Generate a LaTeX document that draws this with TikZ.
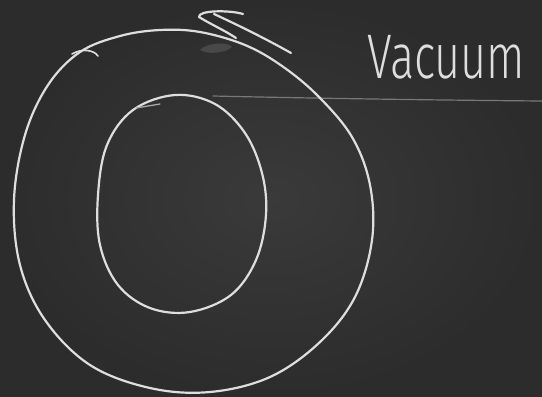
\documentclass[tikz,border=0pt]{standalone}
\usepackage{fontspec}
\newfontfamily\chalkfont{Fira Sans Light}
\definecolor{board}{RGB}{44,44,44}
\definecolor{boardlight}{RGB}{58,58,58}
\definecolor{chalk}{RGB}{222,222,222}
\definecolor{chalkfaint}{RGB}{120,120,120}
\tikzset{
  chalkline/.style={draw=chalk, line width=2.2pt, line cap=round, line join=round},
  faintline/.style={draw=chalkfaint, line width=1.2pt, line cap=round},
}
\begin{document}
\begin{tikzpicture}[x=1pt,y=-1pt]
\useasboundingbox (0,0) rectangle (542,397);
\shade[inner color=boardlight, outer color=board] (0,0) rectangle (542,397);
% faint board seam
\draw[faintline] (213,96) .. controls (300,98) and (420,100) .. (542,101);
% smudge
\fill[chalkfaint, opacity=0.35] (200,50) .. controls (206,43) and (228,41) .. (232,47) .. controls (226,53) and (208,55) .. (200,50) -- cycle;
% outer loop
\draw[chalkline] plot[smooth cycle, tension=0.6] coordinates {
 (245,45) (200,32) (160,30) (120,36) (80,52) (48,85) (25,135) (14,200)
 (20,265) (45,320) (90,365) (150,388) (210,392) (270,377) (320,342)
 (355,297) (372,240) (370,185) (352,137) (318,96) (282,66)};
% hook on outer loop
\draw[chalkline, line width=1.6pt] (72,54) .. controls (82,48) and (94,50) .. (98,56);
% arrow head strokes
\draw[chalkline] (199,17) .. controls (198,10) and (230,10) .. (243,14);
\draw[chalkline] (199,17) .. controls (212,25) and (224,30) .. (236,38);
\draw[chalkline] (214,14) .. controls (240,26) and (268,40) .. (291,53);
% inner oval
\draw[chalkline] plot[smooth cycle, tension=0.6] coordinates {
 (175,95) (215,104) (245,133) (262,173) (266,215) (256,260) (231,295)
 (190,312) (150,308) (118,285) (100,245) (98,195) (107,145) (133,110)};
% tick on inner oval
\draw[chalkline, line width=1.3pt, draw=chalk!70!board] (136,108) -- (160,104);
% label
\node[anchor=south west, inner sep=0pt, text=chalk, font=\chalkfont\fontsize{45}{45}\selectfont, yscale=1.4] (vac) at (367,79) {Vacuum};
\end{tikzpicture}
\end{document}
